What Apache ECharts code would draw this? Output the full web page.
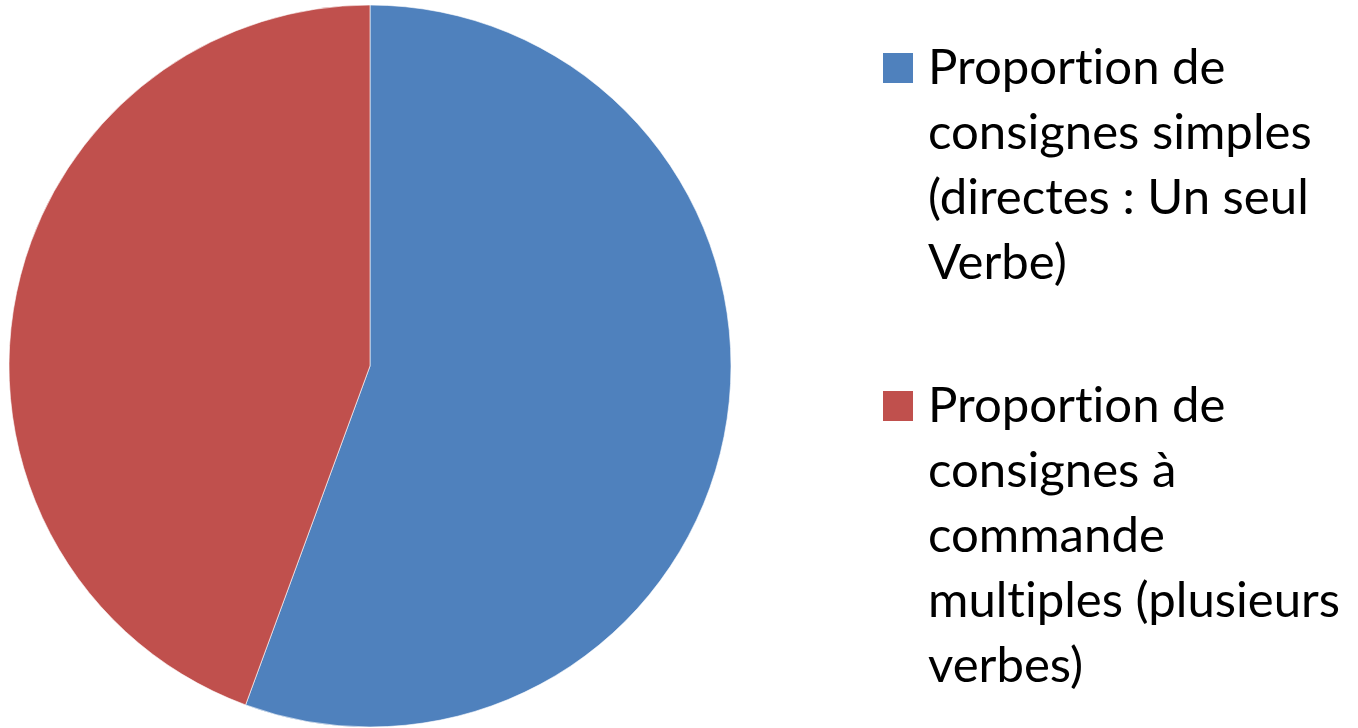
<!DOCTYPE html>
<html>
<head>
<meta charset="utf-8">
<script src="https://cdn.jsdelivr.net/npm/echarts@6/dist/echarts.min.js"></script>
<style>
html,body{margin:0;padding:0;background:#fff;}
#chart{width:1358px;height:728px;}
</style>
</head>
<body>
<div id="chart"></div>
<script>
// Data
const categories = [
  'Proportion de consignes simples (directes : Un seul Verbe)',
  'Proportion de consignes à commande multiples (plusieurs verbes)'
];
const values = [55.6, 44.4];
const colors = ['#4F81BD', '#C0504D'];
const legendLines = [
  ['Proportion de', 'consignes simples', '(directes : Un seul', 'Verbe)'],
  ['Proportion de', 'consignes à', 'commande', 'multiples (plusieurs', 'verbes)']
];

const FONT = 'Lato';
// fit font size to reference text width
const ctx = document.createElement('canvas').getContext('2d');
ctx.font = '100px ' + FONT;
const w100 = ctx.measureText('consignes simples').width;
const fontSize = Math.round(384 / w100 * 100 * 10) / 10;
// avoid the font's "ti" ligature (zero-width non-joiner)
const noLig = s => s.replace(/ti/g, 't\u200Ci');

const chart = echarts.init(document.getElementById('chart'), null, {renderer: 'canvas'});

const legendTops = [53, 391];   // icon top y
const lineH = 65;
const graphics = [];
legendLines.forEach((lines, i) => {
  graphics.push({
    type: 'rect',
    left: 883, top: legendTops[i],
    shape: {width: 30, height: 30},
    style: {fill: colors[i]}
  });
  lines.forEach((ln, j) => {
    graphics.push({
      type: 'text',
      x: 928,
      y: legendTops[i] + 15 + j * lineH,
      style: {
        text: noLig(ln),
        font: fontSize + 'px ' + FONT,
        fill: '#000',
        textAlign: 'left',
        verticalAlign: 'middle'
      }
    });
  });
});

chart.setOption({
  animation: false,
  series: [{
    type: 'pie',
    center: [370, 366],
    radius: [0, 361],
    startAngle: 90,
    clockwise: true,
    label: {show: false},
    labelLine: {show: false},
    itemStyle: {borderColor: '#fff', borderWidth: 0.6},
    data: categories.map((c, i) => ({name: c, value: values[i], itemStyle: {color: colors[i]}}))
  }],
  graphic: graphics
});
</script>
</body>
</html>
